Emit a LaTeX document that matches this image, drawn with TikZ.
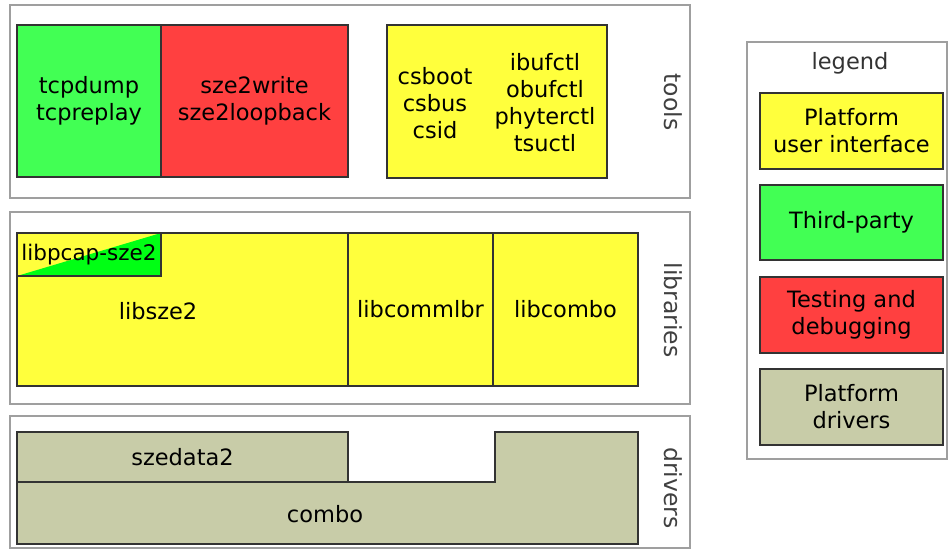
\documentclass[tikz,border=0pt]{standalone}
\usepackage{fontspec}
\setmainfont{DejaVu Sans}
\definecolor{uiyellow}{RGB}{255,255,60}
\definecolor{thirdgreen}{RGB}{66,255,84}
\definecolor{testred}{RGB}{255,64,64}
\definecolor{drvtan}{RGB}{200,204,168}
\definecolor{pcapgreen}{RGB}{0,255,20}
\begin{document}
\begin{tikzpicture}[x=1pt, y=-1pt,
  layer/.style={draw=gray!75, line width=1.3pt, anchor=north west,
                inner sep=0pt, outer sep=0pt},
  comp/.style={draw=black!80, line width=2pt, fill=#1, anchor=north west,
               inner sep=0pt, outer sep=0pt, align=center,
               font=\fontsize{22.5}{27}\selectfont},
  txt/.style={align=center, font=\fontsize{22.5}{27}\selectfont},
  lbl/.style={rotate=-90, font=\fontsize{23.5}{27}\selectfont, text=black!75}
]
  \useasboundingbox (0,0) rectangle (948,551);

  % Layers
  \node[layer, minimum width=680pt, minimum height=193pt] (tools)   at (10,5)   {};
  \node[layer, minimum width=680pt, minimum height=192pt] (libs)    at (10,212) {};
  \node[layer, minimum width=680pt, minimum height=132pt] (drivers) at (10,416) {};
  \node[lbl] (toolslbl)   at (673,102) {tools};
  \node[lbl] (libslbl)    at (673,310) {libraries};
  \node[lbl] (driverslbl) at (673,488) {drivers};

  % Tools
  \node[comp=thirdgreen, minimum width=144pt, minimum height=152pt] (tcp) at (17,25)
    {tcpdump\\tcpreplay};
  \node[comp=testred, minimum width=187pt, minimum height=152pt] (szetools) at (161,25)
    {sze2write\\sze2loopback};
  \node[comp=uiyellow, minimum width=220pt, minimum height=153pt] (cstools) at (387,25) {};
  \node[txt] (csleft)  at (435,103) {csboot\\csbus\\csid};
  \node[txt] (csright) at (545,103) {ibufctl\\obufctl\\phyterctl\\tsuctl};

  % Libraries
  \node[comp=uiyellow, minimum width=331pt, minimum height=153pt] (libsze) at (17,233) {};
  \node[txt] (libszetxt) at (158,311) {libsze2};
  \node[comp=uiyellow, minimum width=144pt, minimum height=43pt,
        font=\fontsize{21.5}{27}\selectfont,
        path picture={\fill[pcapgreen] (path picture bounding box.south west)
          -- (path picture bounding box.north east)
          -- (path picture bounding box.south east) -- cycle;}] (pcap) at (17,233)
    {libpcap-sze2};
  \node[comp=uiyellow, minimum width=145pt, minimum height=153pt] (commlbr) at (348,233)
    {libcommlbr};
  \node[comp=uiyellow, minimum width=145pt, minimum height=153pt] (libcombo) at (493,233)
    {libcombo};

  % Drivers
  \node[comp=drvtan, minimum width=331pt, minimum height=50pt] (szedata) at (17,432)
    {szedata2};
  \draw[draw=black!80, line width=2pt, fill=drvtan, line join=miter]
    (17,482) -- (495,482) -- (495,432) -- (638,432) -- (638,544) -- (17,544) -- cycle;
  \node[txt] (combo) at (325,514) {combo};

  % Legend
  \node[layer, minimum width=200pt, minimum height=417pt] (legend) at (747,42) {};
  \node[txt, text=black!80] (legendtitle) at (850,63) {legend};
  \node[comp=uiyellow, minimum width=183pt, minimum height=76pt] (lgui) at (760,93)
    {Platform\\user interface};
  \node[comp=thirdgreen, minimum width=183pt, minimum height=75pt] (lgthird) at (760,185)
    {Third-party};
  \node[comp=testred, minimum width=183pt, minimum height=76pt] (lgtest) at (760,277)
    {Testing and\\debugging};
  \node[comp=drvtan, minimum width=183pt, minimum height=76pt] (lgdrv) at (760,369)
    {Platform\\drivers};
\end{tikzpicture}
\end{document}
